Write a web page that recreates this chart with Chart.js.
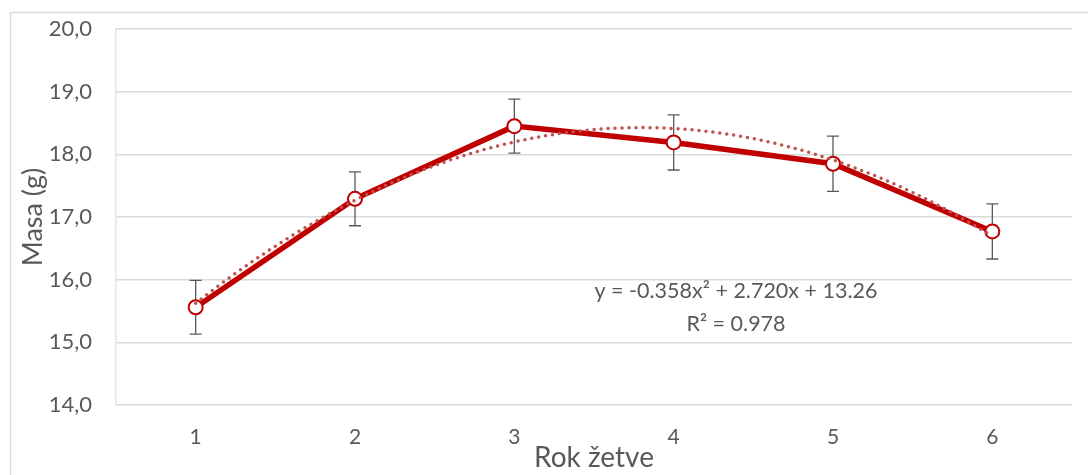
<!DOCTYPE html>
<html>
<head>
<meta charset="utf-8">
<script src="https://cdn.jsdelivr.net/npm/chart.js@4/dist/chart.umd.min.js"></script>
<style>
  html, body { margin: 0; padding: 0; background: #ffffff; }
  #wrap { width: 1088px; height: 475px; position: relative; }
</style>
</head>
<body>
<div id="wrap"><canvas id="c" width="1088" height="475"></canvas></div>
<script>
// Harvest year and mean mass with error bars
const harvestYears = [1, 2, 3, 4, 5, 6];
const massMeans = [15.56, 17.29, 18.45, 18.19, 17.85, 16.77];
const massErrors = [0.43, 0.43, 0.43, 0.44, 0.44, 0.44];
const yTicks = [14, 15, 16, 17, 18, 19, 20];

// Polynomial trendline y = a*x^2 + b*x + c, as printed on the chart
const trendCoefficients = [-0.358, 2.720, 13.26];
const trendLabel = ['y = -0.358x\u00B2 + 2.720x + 13.26', 'R\u00B2 = 0.978'];

const FONT = 'Lato';
const TEXT = '#595959';

const trendPoints = [];
for (let i = 0; i <= 100; i++) {
  const x = harvestYears[0] + (harvestYears[harvestYears.length - 1] - harvestYears[0]) * i / 100;
  const [a, b, c] = trendCoefficients;
  trendPoints.push({ x: x, y: a * x * x + b * x + c });
}

const frame = {
  id: 'frame',
  beforeDraw(chart) {
    const ctx = chart.ctx;
    ctx.save();
    ctx.strokeStyle = '#d9d9d9';
    ctx.lineWidth = 1.5;
    ctx.beginPath();
    ctx.moveTo(10.5, chart.height + 2);
    ctx.lineTo(10.5, 12.5);
    ctx.lineTo(chart.width + 2, 12.5);
    ctx.stroke();
    ctx.restore();
  }
};

const errorBars = {
  id: 'errorBars',
  beforeDatasetsDraw(chart) {
    const ctx = chart.ctx;
    const xs = chart.scales.x, ys = chart.scales.y;
    ctx.save();
    ctx.strokeStyle = '#595959';
    ctx.lineWidth = 1.3;
    harvestYears.forEach((yr, i) => {
      const px = xs.getPixelForValue(yr);
      const top = ys.getPixelForValue(massMeans[i] + massErrors[i]);
      const bot = ys.getPixelForValue(massMeans[i] - massErrors[i]);
      ctx.beginPath();
      ctx.moveTo(px, top); ctx.lineTo(px, bot);
      ctx.moveTo(px - 6, top); ctx.lineTo(px + 6, top);
      ctx.moveTo(px - 6, bot); ctx.lineTo(px + 6, bot);
      ctx.stroke();
    });
    ctx.restore();
  }
};

const equation = {
  id: 'equation',
  afterDraw(chart) {
    const ctx = chart.ctx;
    ctx.save();
    ctx.fillStyle = TEXT;
    ctx.font = '21.5px ' + FONT;
    ctx.textAlign = 'center';
    ctx.textBaseline = 'middle';
    ctx.fillText(trendLabel[0], 736, 291);
    ctx.fillText(trendLabel[1], 736, 324);
    ctx.restore();
  }
};

new Chart(document.getElementById('c'), {
  type: 'line',
  data: {
    datasets: [
      {
        label: 'Trend',
        data: trendPoints,
        borderColor: '#C0504D',
        borderWidth: 3.5,
        borderDash: [0, 7],
        borderCapStyle: 'round',
        pointRadius: 0,
        tension: 0,
        order: 0
      },
      {
        label: 'Masa',
        data: harvestYears.map((x, i) => ({ x: x, y: massMeans[i] })),
        borderColor: '#C00000',
        borderWidth: 5.5,
        pointRadius: 7,
        pointBorderWidth: 2,
        pointBackgroundColor: '#ffffff',
        pointBorderColor: '#C00000',
        tension: 0,
        order: 1
      }
    ]
  },
  options: {
    responsive: false,
    animation: false,
    layout: { autoPadding: false, padding: { top: 29, right: 16, left: 0, bottom: 0 } },
    plugins: { legend: { display: false }, tooltip: { enabled: false } },
    scales: {
      x: {
        type: 'linear',
        min: 0.5,
        max: 6.5,
        afterBuildTicks: s => { s.ticks = harvestYears.map(v => ({ value: v })); },
        afterFit: s => { s.height = 70; s.paddingLeft = 0; s.paddingRight = 0; },
        grid: { display: false, drawTicks: false },
        border: { display: false },
        ticks: {
          color: TEXT,
          font: { family: FONT, size: 21 },
          padding: 20,
          maxRotation: 0,
          callback: v => String(v)
        },
        title: {
          display: true,
          text: 'Rok žetve',
          color: TEXT,
          font: { family: FONT, size: 28 },
          padding: { top: 0, bottom: 0 }
        }
      },
      y: {
        min: 14,
        max: 20,
        afterBuildTicks: s => { s.ticks = yTicks.map(v => ({ value: v })); },
        afterFit: s => { s.width = 116; s.paddingTop = 0; s.paddingBottom = 0; },
        grid: { color: '#d9d9d9', lineWidth: 1.5, drawTicks: false },
        border: { display: true, color: '#e6e4dc', width: 1.5 },
        ticks: {
          color: TEXT,
          font: { family: FONT, size: 22 },
          padding: 24,
          callback: v => v.toFixed(1).replace('.', ',')
        },
        title: {
          display: true,
          text: 'Masa (g)',
          color: TEXT,
          font: { family: FONT, size: 27 },
          padding: { top: 17, bottom: 0 }
        }
      }
    }
  },
  plugins: [frame, errorBars, equation]
});
</script>
</body>
</html>
